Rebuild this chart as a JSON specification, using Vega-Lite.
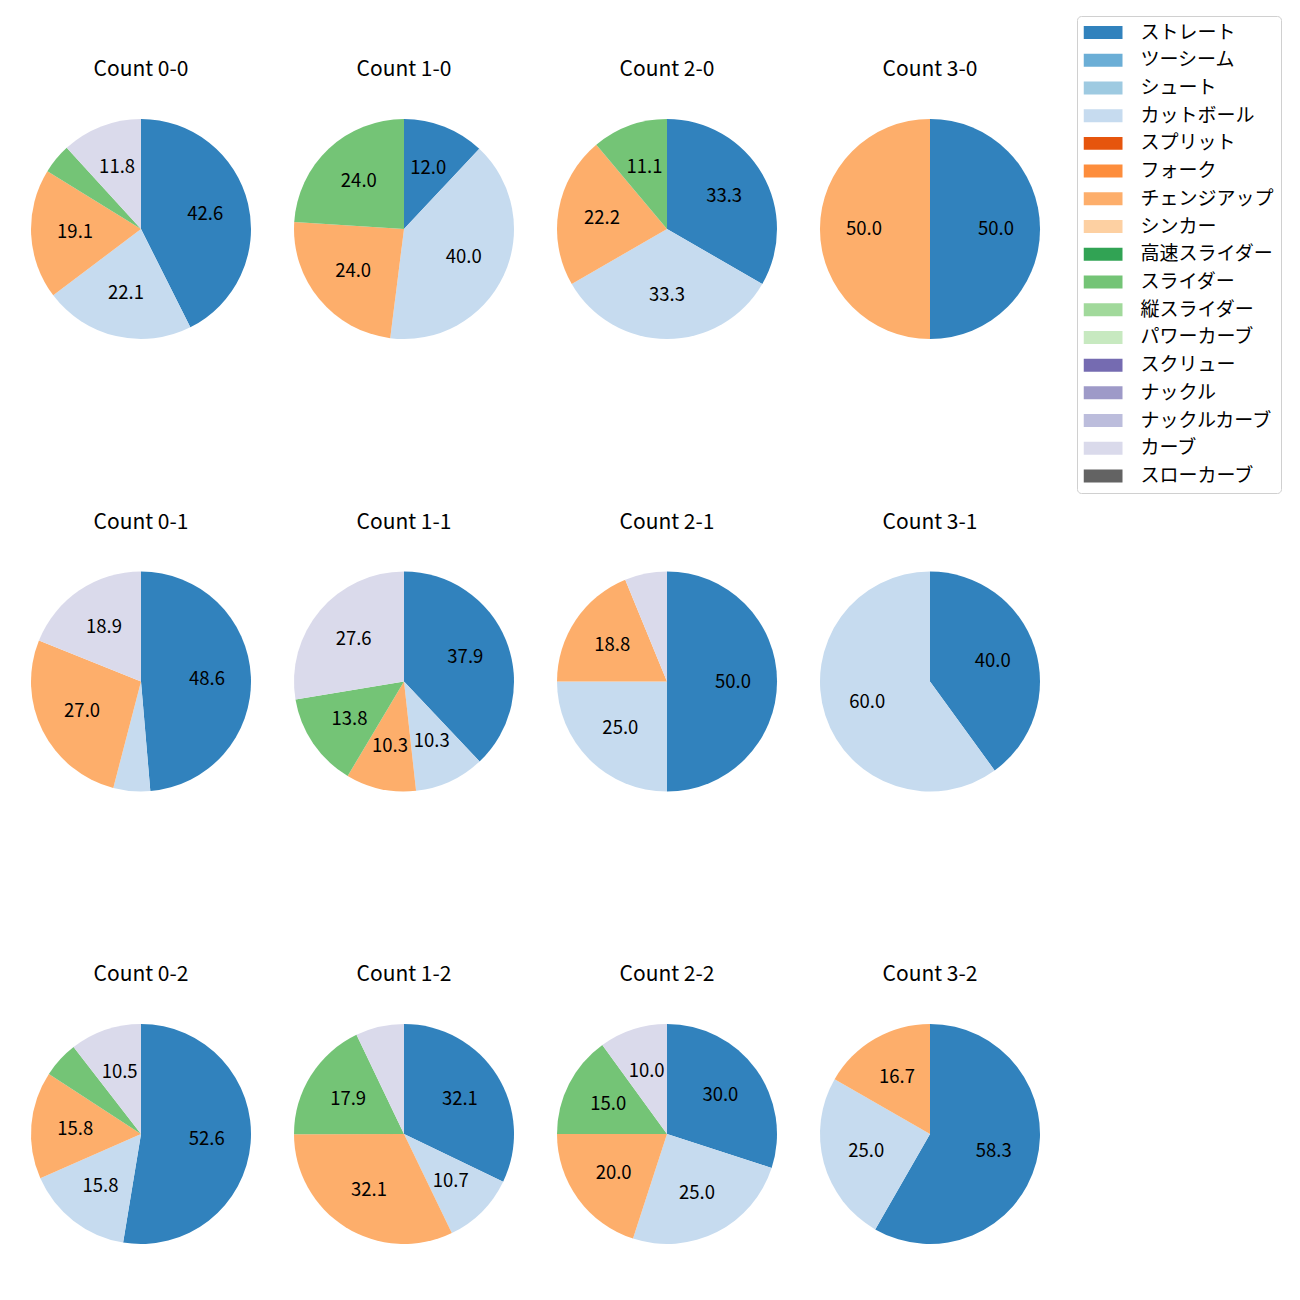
{
  "$schema": "https://vega.github.io/schema/vega-lite/v6.json",
  "padding": {"left": 31, "top": 15, "right": 5, "bottom": 5},
  "background": "white",
  "data": {"values": [
    {"count": "Count 0-0", "pitch": "ストレート", "pct": 42.6},
    {"count": "Count 0-0", "pitch": "カットボール", "pct": 22.1},
    {"count": "Count 0-0", "pitch": "チェンジアップ", "pct": 19.1},
    {"count": "Count 0-0", "pitch": "スライダー", "pct": 4.4},
    {"count": "Count 0-0", "pitch": "カーブ", "pct": 11.8},
    {"count": "Count 1-0", "pitch": "ストレート", "pct": 12.0},
    {"count": "Count 1-0", "pitch": "カットボール", "pct": 40.0},
    {"count": "Count 1-0", "pitch": "チェンジアップ", "pct": 24.0},
    {"count": "Count 1-0", "pitch": "スライダー", "pct": 24.0},
    {"count": "Count 2-0", "pitch": "ストレート", "pct": 33.3},
    {"count": "Count 2-0", "pitch": "カットボール", "pct": 33.3},
    {"count": "Count 2-0", "pitch": "チェンジアップ", "pct": 22.2},
    {"count": "Count 2-0", "pitch": "スライダー", "pct": 11.1},
    {"count": "Count 3-0", "pitch": "ストレート", "pct": 50.0},
    {"count": "Count 3-0", "pitch": "チェンジアップ", "pct": 50.0},
    {"count": "Count 0-1", "pitch": "ストレート", "pct": 48.6},
    {"count": "Count 0-1", "pitch": "カットボール", "pct": 5.4},
    {"count": "Count 0-1", "pitch": "チェンジアップ", "pct": 27.0},
    {"count": "Count 0-1", "pitch": "カーブ", "pct": 18.9},
    {"count": "Count 1-1", "pitch": "ストレート", "pct": 37.9},
    {"count": "Count 1-1", "pitch": "カットボール", "pct": 10.3},
    {"count": "Count 1-1", "pitch": "チェンジアップ", "pct": 10.3},
    {"count": "Count 1-1", "pitch": "スライダー", "pct": 13.8},
    {"count": "Count 1-1", "pitch": "カーブ", "pct": 27.6},
    {"count": "Count 2-1", "pitch": "ストレート", "pct": 50.0},
    {"count": "Count 2-1", "pitch": "カットボール", "pct": 25.0},
    {"count": "Count 2-1", "pitch": "チェンジアップ", "pct": 18.8},
    {"count": "Count 2-1", "pitch": "カーブ", "pct": 6.2},
    {"count": "Count 3-1", "pitch": "ストレート", "pct": 40.0},
    {"count": "Count 3-1", "pitch": "カットボール", "pct": 60.0},
    {"count": "Count 0-2", "pitch": "ストレート", "pct": 52.6},
    {"count": "Count 0-2", "pitch": "カットボール", "pct": 15.8},
    {"count": "Count 0-2", "pitch": "チェンジアップ", "pct": 15.8},
    {"count": "Count 0-2", "pitch": "スライダー", "pct": 5.3},
    {"count": "Count 0-2", "pitch": "カーブ", "pct": 10.5},
    {"count": "Count 1-2", "pitch": "ストレート", "pct": 32.1},
    {"count": "Count 1-2", "pitch": "カットボール", "pct": 10.7},
    {"count": "Count 1-2", "pitch": "チェンジアップ", "pct": 32.1},
    {"count": "Count 1-2", "pitch": "スライダー", "pct": 17.9},
    {"count": "Count 1-2", "pitch": "カーブ", "pct": 7.1},
    {"count": "Count 2-2", "pitch": "ストレート", "pct": 30.0},
    {"count": "Count 2-2", "pitch": "カットボール", "pct": 25.0},
    {"count": "Count 2-2", "pitch": "チェンジアップ", "pct": 20.0},
    {"count": "Count 2-2", "pitch": "スライダー", "pct": 15.0},
    {"count": "Count 2-2", "pitch": "カーブ", "pct": 10.0},
    {"count": "Count 3-2", "pitch": "ストレート", "pct": 58.3},
    {"count": "Count 3-2", "pitch": "カットボール", "pct": 25.0},
    {"count": "Count 3-2", "pitch": "チェンジアップ", "pct": 16.7}
  ]},
  "transform": [
    {"window": [{"op": "row_number", "as": "rn"}]}
  ],
  "facet": {
    "field": "count",
    "type": "nominal",
    "sort": ["Count 0-0", "Count 1-0", "Count 2-0", "Count 3-0", "Count 0-1", "Count 1-1", "Count 2-1", "Count 3-1", "Count 0-2", "Count 1-2", "Count 2-2", "Count 3-2"],
    "title": null,
    "header": {"labelFont": "Noto Sans CJK JP", "labelFontSize": 21, "labelColor": "black", "labelPadding": 39}
  },
  "columns": 4,
  "spacing": {"row": 172.5, "column": 43},
  "resolve": {"scale": {"theta": "independent"}},
  "spec": {
    "width": 220,
    "height": 220,
    "encoding": {
      "theta": {"field": "pct", "type": "quantitative", "stack": "normalize"},
      "order": {"field": "rn", "type": "quantitative"}
    },
    "layer": [
      {
        "mark": {"type": "arc", "outerRadius": 110},
        "encoding": {
          "color": {
            "field": "pitch",
            "type": "nominal",
            "scale": {
              "domain": ["ストレート", "ツーシーム", "シュート", "カットボール", "スプリット", "フォーク", "チェンジアップ", "シンカー", "高速スライダー", "スライダー", "縦スライダー", "パワーカーブ", "スクリュー", "ナックル", "ナックルカーブ", "カーブ", "スローカーブ"],
              "range": ["#3182bd", "#6baed6", "#9ecae1", "#c6dbef", "#e6550d", "#fd8d3c", "#fdae6b", "#fdd0a2", "#31a354", "#74c476", "#a1d99b", "#c7e9c0", "#756bb1", "#9e9ac8", "#bcbddc", "#dadaeb", "#636363"]
            },
            "legend": {
              "orient": "none",
              "legendX": 1046,
              "legendY": -103,
              "title": null,
              "symbolType": "M-1,-0.333H1V0.333H-1Z",
              "symbolSize": 1521,
              "symbolStrokeWidth": 0,
              "symbolOpacity": 1,
              "clipHeight": 20,
              "rowPadding": 7.72,
              "labelFont": "Noto Sans CJK JP",
              "labelFontSize": 19,
              "labelColor": "black",
              "labelOffset": 18,
              "padding": 6.5,
              "strokeColor": "#d0d0d0",
              "cornerRadius": 4,
              "fillColor": "white"
            }
          }
        }
      },
      {
        "mark": {"type": "text", "radius": 66, "font": "Noto Sans CJK JP", "fontSize": 18.5, "color": "black"},
        "encoding": {
          "detail": {"field": "pitch", "type": "nominal"},
          "text": {
            "condition": {"test": "datum.pct >= 10", "field": "pct", "type": "quantitative", "format": ".1f"},
            "value": ""
          }
        }
      }
    ]
  },
  "config": {"view": {"stroke": null}}
}
